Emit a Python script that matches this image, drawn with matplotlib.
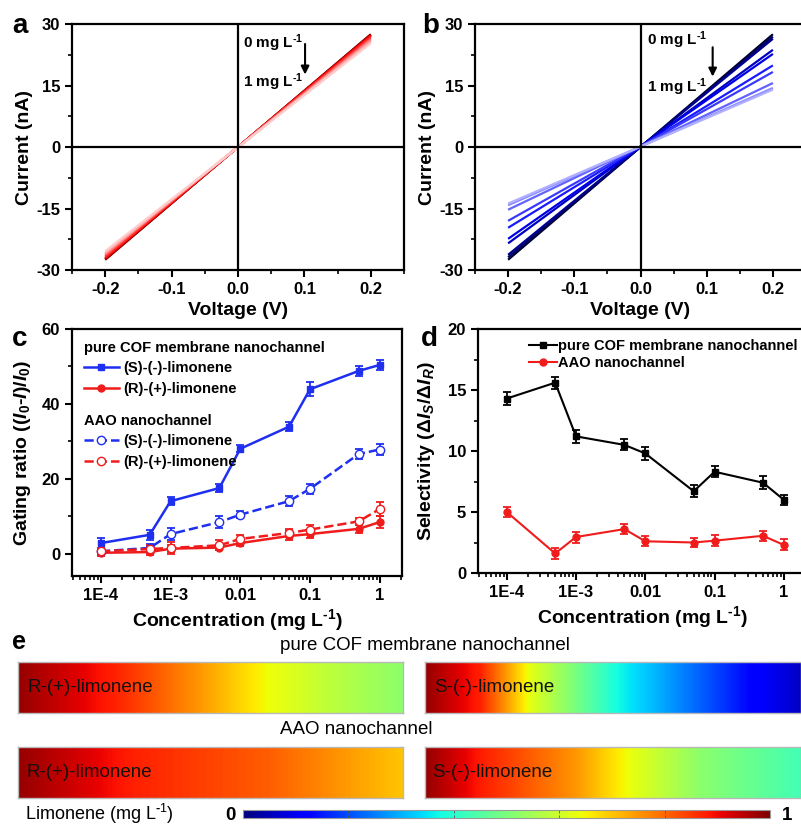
import numpy as np
import matplotlib
matplotlib.use("Agg")
import matplotlib.pyplot as plt
from matplotlib.lines import Line2D
from matplotlib.ticker import MultipleLocator, FixedLocator, FixedFormatter, LogLocator, NullFormatter
import matplotlib.cm as cm
from matplotlib.colors import Normalize

plt.rcParams['font.family'] = ['Liberation Sans', 'DejaVu Sans']
plt.rcParams['font.weight'] = 'bold'
plt.rcParams['axes.labelweight'] = 'bold'
plt.rcParams['mathtext.fontset'] = 'custom'
plt.rcParams['mathtext.default'] = 'regular'
plt.rcParams['mathtext.rm'] = 'Liberation Sans:bold'
plt.rcParams['mathtext.it'] = 'Liberation Sans:italic:bold'
plt.rcParams['mathtext.bf'] = 'Liberation Sans:bold'

# ---------------- data ----------------
conc_labels = ['0', '1E-4', '5E-4', '1E-3', '5E-3', '0.01', '0.05', '0.1', '0.5', '1']
volt_ends = [-0.2, 0.2]
# panel a: R-(+)-limonene, current at -0.2 V and +0.2 V (nA)
iv_R_neg = [-27.5, -27.4, -27.3, -27.1, -27.0, -26.7, -26.3, -26.1, -25.8, -25.4]
iv_R_pos = [27.5, 27.4, 27.35, 27.1, 27.05, 26.7, 26.3, 26.1, 25.7, 25.3]
# panel b: S-(-)-limonene
iv_S_neg = [-27.5, -26.9, -26.3, -23.5, -22.4, -19.7, -18.0, -15.3, -14.2, -13.8]
iv_S_pos = [27.5, 26.9, 26.4, 23.7, 22.7, 19.9, 18.3, 15.6, 14.4, 14.0]

conc = [1e-4, 5e-4, 1e-3, 5e-3, 0.01, 0.05, 0.1, 0.5, 1.0]
# panel c: gating ratio (%)
gate_S_cof = [2.8, 5.0, 14.0, 17.5, 28.0, 33.9, 43.9, 48.8, 50.4]
gate_S_cof_err = [1.3, 1.3, 1.0, 1.0, 1.0, 1.2, 1.9, 1.3, 1.3]
gate_R_cof = [0.2, 0.4, 1.3, 1.6, 2.8, 4.7, 5.2, 6.6, 8.4]
gate_R_cof_err = [0.9, 0.8, 0.9, 0.7, 0.8, 1.2, 1.1, 1.1, 1.6]
gate_S_aao = [0.6, 1.5, 5.2, 8.4, 10.4, 14.0, 17.3, 26.6, 27.8]
gate_S_aao_err = [1.0, 1.0, 1.6, 1.6, 1.0, 1.3, 1.4, 1.4, 1.4]
gate_R_aao = [0.6, 1.2, 1.5, 2.2, 3.9, 5.5, 6.4, 8.6, 11.9]
gate_R_aao_err = [1.0, 1.0, 1.6, 1.3, 1.1, 1.0, 1.1, 1.0, 1.9]
# panel d: selectivity
sel_cof = [14.3, 15.6, 11.2, 10.5, 9.8, 6.7, 8.3, 7.4, 6.0]
sel_cof_err = [0.5, 0.5, 0.55, 0.45, 0.5, 0.5, 0.45, 0.55, 0.4]
sel_aao = [5.0, 1.6, 2.95, 3.6, 2.6, 2.5, 2.65, 3.05, 2.3]
sel_aao_err = [0.45, 0.45, 0.45, 0.4, 0.4, 0.35, 0.45, 0.4, 0.45]
log_ticks = [1e-4, 1e-3, 1e-2, 1e-1, 1]
log_tick_labels = ['1E-4', '1E-3', '0.01', '0.1', '1']

# panel e: concentration profiles (relative position along bar -> limonene level)
prof_R_cof_pos = [0, 0.26, 0.47, 0.65, 0.82, 1.0]
prof_R_cof_val = [0.98, 0.87, 0.75, 0.64, 0.575, 0.52]
prof_S_cof_pos = [0, 0.146, 0.28, 0.51, 0.86, 1.0]
prof_S_cof_val = [0.98, 0.875, 0.625, 0.375, 0.13, 0.06]
prof_R_aao_pos = [0, 0.3, 0.65, 1.0]
prof_R_aao_val = [0.98, 0.875, 0.81, 0.70]
prof_S_aao_pos = [0, 0.155, 0.40, 0.55, 0.73, 1.0]
prof_S_aao_val = [0.98, 0.875, 0.75, 0.63, 0.52, 0.43]

# ---------------- layout ----------------
W, H = 801, 826
fig = plt.figure(figsize=(W / 100, H / 100), dpi=100)

def fa(x0, y0, x1, y1):
    return [x0 / W, 1 - y1 / H, (x1 - x0) / W, (y1 - y0) / H]

TICK = 12
LAB = 14
UNIT = r'mg L$^{\text{-}1}$'

def style(ax):
    for s in ax.spines.values():
        s.set_linewidth(1.6)
    ax.tick_params(which='major', direction='out', length=5, width=1.5, labelsize=TICK,
                   top=False, right=False)
    ax.tick_params(which='minor', direction='out', length=3, width=1.2, top=False, right=False)
    for lab in ax.get_xticklabels() + ax.get_yticklabels():
        lab.set_fontweight('bold')

def iv_panel(ax, neg, pos, colors):
    for n, p, c in zip(neg, pos, colors):
        ax.plot(volt_ends, [n, p], color=c, lw=1.6, solid_capstyle='butt')
    ax.axhline(0, color='k', lw=1.6)
    ax.axvline(0, color='k', lw=1.6)
    ax.set_xlim(-0.25, 0.25)
    ax.set_ylim(-30, 30)
    ax.xaxis.set_major_locator(FixedLocator([-0.2, -0.1, 0.0, 0.1, 0.2]))
    ax.xaxis.set_major_formatter(FixedFormatter(['-0.2', '-0.1', '0.0', '0.1', '0.2']))
    ax.xaxis.set_minor_locator(FixedLocator([-0.25, -0.15, -0.05, 0.05, 0.15, 0.25]))
    ax.yaxis.set_major_locator(MultipleLocator(15))
    ax.yaxis.set_minor_locator(MultipleLocator(7.5))
    ax.set_yticks([-30, -15, 0, 15, 30])
    ax.set_yticklabels(['-30', '-15', '0', '15', '30'])
    ax.set_xlabel('Voltage (V)', fontsize=LAB, labelpad=4)
    ax.set_ylabel('Current (nA)', fontsize=LAB, labelpad=2)
    style(ax)

# panel a
axa = fig.add_axes(fa(72, 24, 404, 270))
red_cols = [(0.35, 0, 0), (0.55, 0, 0), (0.75, 0, 0), (0.9, 0.0, 0.0), (1, 0.05, 0.05),
            (1, 0.2, 0.2), (1, 0.35, 0.35), (1, 0.5, 0.5), (1, 0.65, 0.65), (1, 0.8, 0.8)]
iv_panel(axa, iv_R_neg, iv_R_pos, red_cols)
axa.annotate('', xy=(0.101, 17.0), xytext=(0.101, 25.8),
             arrowprops=dict(arrowstyle='-|>', color='k', lw=1.5, mutation_scale=12))
axa.text(0.007, 25.4, '0 ' + UNIT, fontsize=11, va='center', ha='left')
axa.text(0.007, 15.9, '1 ' + UNIT, fontsize=11, va='center', ha='left')

# panel b
axb = fig.add_axes(fa(475, 24, 806, 270))
blue_cols = ['#000030', '#000060', '#000090', '#0000c0', '#0000e8', '#1a1aff',
             '#3a3aff', '#6262ff', '#8a8aff', '#b0b0ff']
iv_panel(axb, iv_S_neg, iv_S_pos, blue_cols)
axb.annotate('', xy=(0.109, 16.5), xytext=(0.109, 25.0),
             arrowprops=dict(arrowstyle='-|>', color='k', lw=1.5, mutation_scale=12))
axb.text(0.01, 26.0, '0 ' + UNIT, fontsize=11, va='center', ha='left')
axb.text(0.01, 14.6, '1 ' + UNIT, fontsize=11, va='center', ha='left')

def log_axis(ax):
    ax.set_xscale('log')
    ax.set_xlim(10 ** -4.415, 10 ** 0.32)
    ax.xaxis.set_major_locator(FixedLocator(log_ticks))
    ax.xaxis.set_major_formatter(FixedFormatter(log_tick_labels))
    ax.xaxis.set_minor_locator(LogLocator(base=10, subs=np.arange(2, 10), numticks=20))
    ax.xaxis.set_minor_formatter(NullFormatter())
    ax.set_xlabel('Concentration (' + UNIT + ')', fontsize=LAB, labelpad=3)

# panel c
BLUE = '#1f2ff0'
RED = '#f01c1c'
axc = fig.add_axes(fa(72, 329, 402, 576))
ekw = dict(capsize=3, elinewidth=1.3, capthick=1.3)
axc.errorbar(conc, gate_S_cof, yerr=gate_S_cof_err, color=BLUE, marker='s', ms=5,
             lw=1.8, **ekw)
axc.errorbar(conc, gate_R_cof, yerr=gate_R_cof_err, color=RED, marker='o', ms=5,
             lw=1.8, **ekw)
axc.errorbar(conc, gate_S_aao, yerr=gate_S_aao_err, color=BLUE, marker='o', ms=6,
             mfc='white', mec=BLUE, lw=1.8, ls='--', **ekw)
axc.errorbar(conc, gate_R_aao, yerr=gate_R_aao_err, color=RED, marker='o', ms=6,
             mfc='white', mec=RED, lw=1.8, ls='--', **ekw)
log_axis(axc)
axc.set_ylim(-6, 60)
axc.yaxis.set_major_locator(MultipleLocator(20))
axc.yaxis.set_minor_locator(MultipleLocator(10))
axc.set_ylabel(r'Gating ratio (($\mathit{I}_{0}$-$\mathit{I}$)/$\mathit{I}_{0}$)',
               fontsize=LAB, labelpad=6)
style(axc)
h1 = Line2D([], [], color=BLUE, marker='s', ms=5, lw=1.8)
h2 = Line2D([], [], color=RED, marker='o', ms=5, lw=1.8)
h3 = Line2D([], [], color=BLUE, marker='o', ms=6, mfc='white', lw=1.8, ls='--')
h4 = Line2D([], [], color=RED, marker='o', ms=6, mfc='white', lw=1.8, ls='--')
leg_kw = dict(loc='upper left', frameon=False, fontsize=10.6,
              title_fontproperties={'weight': 'bold', 'size': 10.6},
              handlelength=2.4, handletextpad=0.3, labelspacing=0.45,
              borderaxespad=0.4, alignment='left')
legc1 = axc.legend([h1, h2], ['(S)-(-)-limonene', '(R)-(+)-limonene'],
                   title='pure COF membrane nanochannel', bbox_to_anchor=(0.0, 1.0), **leg_kw)
axc.add_artist(legc1)
legc2 = axc.legend([h3, h4], ['(S)-(-)-limonene', '(R)-(+)-limonene'],
                   title='AAO nanochannel', bbox_to_anchor=(0.0, 0.705), **leg_kw)

# panel d
axd = fig.add_axes(fa(478, 329, 806, 573))
axd.errorbar(conc, sel_cof, yerr=sel_cof_err, color='k', marker='s', ms=4.5, lw=1.5, **ekw)
axd.errorbar(conc, sel_aao, yerr=sel_aao_err, color=RED, marker='o', ms=5, lw=1.5, **ekw)
log_axis(axd)
axd.set_ylim(0, 20)
axd.yaxis.set_major_locator(MultipleLocator(5))
axd.yaxis.set_minor_locator(MultipleLocator(2.5))
axd.set_ylabel(r'Selectivity ($\mathit{\Delta I_{S}/\Delta I_{R}}$)', fontsize=LAB, labelpad=8)
style(axd)
hd1 = Line2D([], [], color='k', marker='s', ms=4.5, lw=1.5)
hd2 = Line2D([], [], color=RED, marker='o', ms=5, lw=1.5)
axd.legend([hd1, hd2], ['pure COF membrane nanochannel', 'AAO nanochannel'],
           loc='upper left', bbox_to_anchor=(0.125, 1.0), frameon=False, fontsize=10.5,
           handlelength=1.9, handletextpad=0.1, labelspacing=0.2, borderaxespad=0.3)

# panel letters
for lbl, x, y in [('a', 12, 26), ('b', 422, 26), ('c', 12, 339), ('d', 421, 339)]:
    fig.text(x / W, 1 - y / H, lbl, fontsize=20, fontweight='bold', ha='left', va='center')
fig.text(12 / W, 1 - 642 / H, 'e', fontsize=18, fontweight='bold', ha='left', va='center')

# panel e
jet = plt.get_cmap('jet')
REG = ['Liberation Sans', 'DejaVu Sans']

def bar(box, pos, val, label, tx):
    ax = fig.add_axes(fa(*box))
    xs = np.linspace(0, 1, 400)
    prof = np.interp(xs, pos, val)
    ax.imshow(prof[None, :], cmap=jet, vmin=0, vmax=1, aspect='auto',
              extent=(0, 1, 0, 1), interpolation='bilinear')
    ax.set_xticks([])
    ax.set_yticks([])
    for s in ax.spines.values():
        s.set_color('#b8b8b8')
        s.set_linewidth(1.0)
    ax.text(tx, 0.5, label, transform=ax.transAxes, fontsize=13.5, fontweight='medium',
            family=REG, ha='left', va='center', color='#111111')
    return ax

bar((18, 662, 403, 713), prof_R_cof_pos, prof_R_cof_val, 'R-(+)-limonene', 0.025)
bar((425, 662, 801, 713), prof_S_cof_pos, prof_S_cof_val, 'S-(-)-limonene', 0.025)
bar((18, 747, 403, 798), prof_R_aao_pos, prof_R_aao_val, 'R-(+)-limonene', 0.022)
bar((425, 747, 801, 798), prof_S_aao_pos, prof_S_aao_val, 'S-(-)-limonene', 0.02)

fig.text(280 / W, 1 - 645 / H, 'pure COF membrane nanochannel', fontsize=13.5,
         fontweight='normal', family=REG, ha='left', va='center')
fig.text(280 / W, 1 - 730 / H, 'AAO nanochannel', fontsize=13.5,
         fontweight='normal', family=REG, ha='left', va='center')

cax = fig.add_axes(fa(243, 810, 770, 818))
sm = cm.ScalarMappable(norm=Normalize(0, 1), cmap=jet)
cb = fig.colorbar(sm, cax=cax, orientation='horizontal')
cb.outline.set_edgecolor('#999999')
cb.outline.set_linewidth(0.8)
cax.set_xticks([0.2, 0.4, 0.6, 0.8])
cax.tick_params(axis='x', direction='in', length=2, width=0.6, colors='#555555',
                labelbottom=False, top=True)
fig.text(25 / W, 1 - 814 / H, 'Limonene (' + UNIT.replace('$^', '$^') + ')', fontsize=13,
         fontweight='normal', family=REG, ha='left', va='center')
fig.text(230 / W, 1 - 815 / H, '0', fontsize=13.5, fontweight='bold', ha='center', va='center')
fig.text(787 / W, 1 - 816 / H, '1', fontsize=13.5, fontweight='bold', ha='center', va='center')

fig.savefig('out.png', dpi=100)
